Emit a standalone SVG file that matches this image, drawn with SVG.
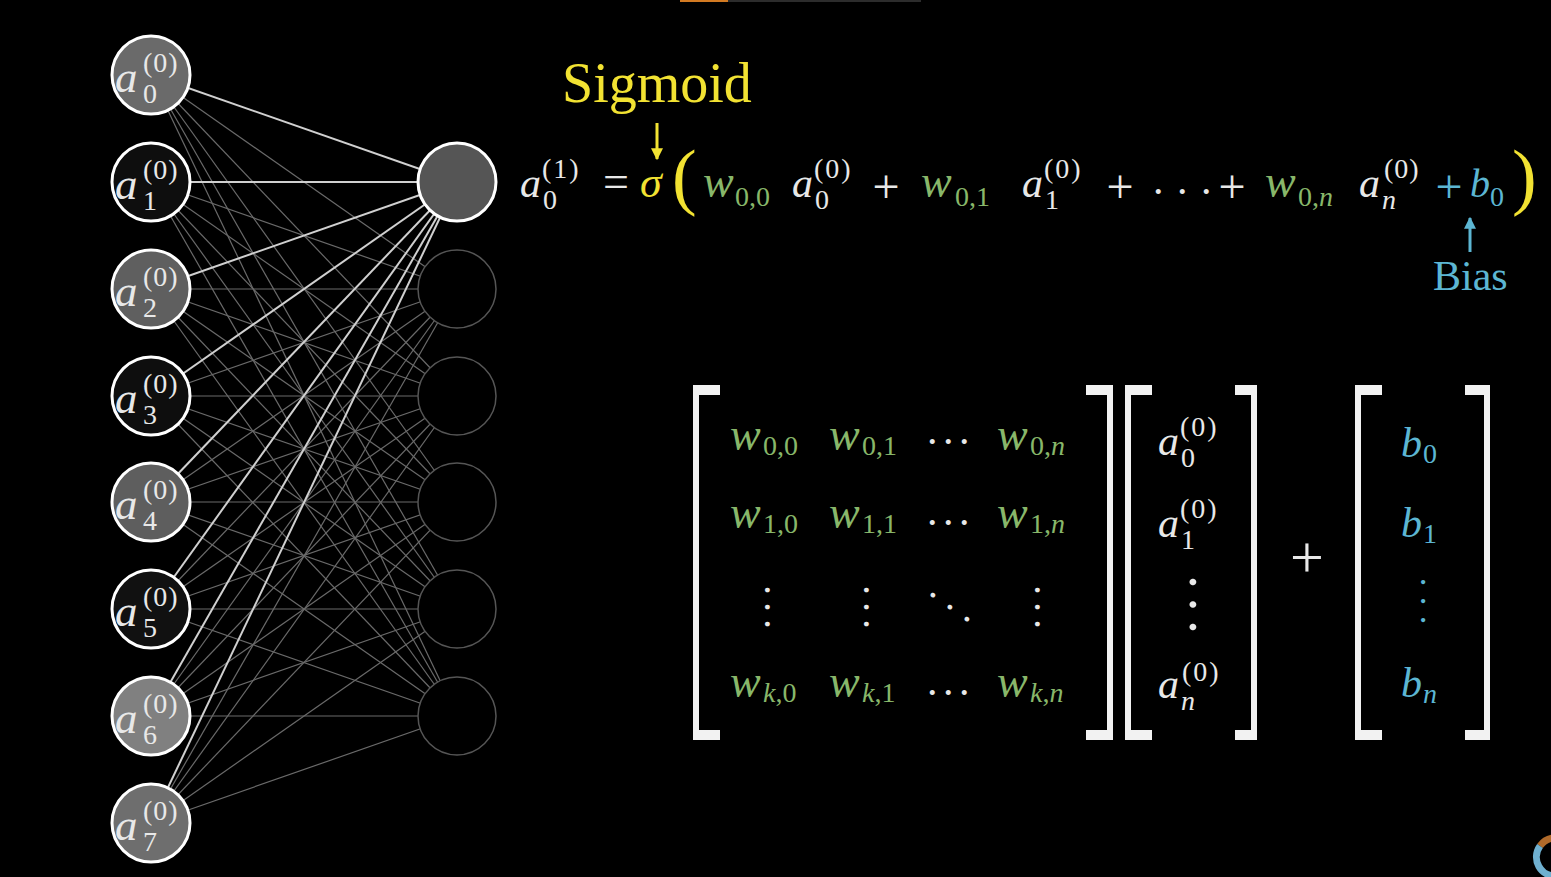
<svg xmlns="http://www.w3.org/2000/svg" width="1551" height="877" viewBox="0 0 1551 877">
<style>
.it{font-family:"Liberation Serif",serif;font-style:italic}
.rm{font-family:"Liberation Serif",serif}
.wt{fill:#e8e8e8}
.gr{fill:#88b76a}
.bl{fill:#5cb6d3}
.yl{fill:#f2e232}
.big{font-size:42px}
.ww{font-size:46px}
.sm{font-size:28px}
.lbA{font-size:45px}
.dim{stroke:#6a6a6a;stroke-width:1.2}
.brt{stroke:#d0d0d0;stroke-width:2}
.in{stroke:#ffffff;stroke-width:3}
.out{fill:#000;stroke:#555;stroke-width:1.5}
.br{fill:#f2f2f2}
</style>
<defs>
<marker id="ahY" viewBox="0 0 10 10" refX="9" refY="5" markerWidth="4" markerHeight="4" orient="auto"><path d="M0,0 L10,5 L0,10 z" fill="#f2e232"/></marker>
<marker id="ahB" viewBox="0 0 10 10" refX="9" refY="5" markerWidth="4" markerHeight="4" orient="auto"><path d="M0,0 L10,5 L0,10 z" fill="#5cb6d3"/></marker>
</defs>
<rect width="1551" height="877" fill="#000"/>
<rect x="680" y="0" width="48" height="2" fill="#d27a22"/>
<rect x="728" y="0" width="193" height="2" fill="#2c2c2c"/>
<path d="M1540,846 A19,19 0 0 1 1557,838" fill="none" stroke="#b06a2a" stroke-width="7"/>
<path d="M1540,846 A19,19 0 0 0 1557,876" fill="none" stroke="#6fb0d0" stroke-width="7"/>

<g id="connectors">
<g class="dim">
<line x1="151" y1="75" x2="457" y2="289"/><line x1="151" y1="75" x2="457" y2="396"/><line x1="151" y1="75" x2="457" y2="502"/><line x1="151" y1="75" x2="457" y2="609"/><line x1="151" y1="75" x2="457" y2="716"/>
<line x1="151" y1="182" x2="457" y2="289"/><line x1="151" y1="182" x2="457" y2="396"/><line x1="151" y1="182" x2="457" y2="502"/><line x1="151" y1="182" x2="457" y2="609"/><line x1="151" y1="182" x2="457" y2="716"/>
<line x1="151" y1="289" x2="457" y2="289"/><line x1="151" y1="289" x2="457" y2="396"/><line x1="151" y1="289" x2="457" y2="502"/><line x1="151" y1="289" x2="457" y2="609"/><line x1="151" y1="289" x2="457" y2="716"/>
<line x1="151" y1="396" x2="457" y2="289"/><line x1="151" y1="396" x2="457" y2="396"/><line x1="151" y1="396" x2="457" y2="502"/><line x1="151" y1="396" x2="457" y2="609"/><line x1="151" y1="396" x2="457" y2="716"/>
<line x1="151" y1="502" x2="457" y2="289"/><line x1="151" y1="502" x2="457" y2="396"/><line x1="151" y1="502" x2="457" y2="502"/><line x1="151" y1="502" x2="457" y2="609"/><line x1="151" y1="502" x2="457" y2="716"/>
<line x1="151" y1="609" x2="457" y2="289"/><line x1="151" y1="609" x2="457" y2="396"/><line x1="151" y1="609" x2="457" y2="502"/><line x1="151" y1="609" x2="457" y2="609"/><line x1="151" y1="609" x2="457" y2="716"/>
<line x1="151" y1="716" x2="457" y2="289"/><line x1="151" y1="716" x2="457" y2="396"/><line x1="151" y1="716" x2="457" y2="502"/><line x1="151" y1="716" x2="457" y2="609"/><line x1="151" y1="716" x2="457" y2="716"/>
<line x1="151" y1="823" x2="457" y2="289"/><line x1="151" y1="823" x2="457" y2="396"/><line x1="151" y1="823" x2="457" y2="502"/><line x1="151" y1="823" x2="457" y2="609"/><line x1="151" y1="823" x2="457" y2="716"/>
</g>
<g class="brt">
<line x1="151" y1="75" x2="457" y2="182"/><line x1="151" y1="182" x2="457" y2="182"/><line x1="151" y1="289" x2="457" y2="182"/><line x1="151" y1="396" x2="457" y2="182"/>
<line x1="151" y1="502" x2="457" y2="182"/><line x1="151" y1="609" x2="457" y2="182"/><line x1="151" y1="716" x2="457" y2="182"/><line x1="151" y1="823" x2="457" y2="182"/>
</g>
</g>

<g id="in0"><circle cx="151" cy="75" r="39" fill="#6a6a6a" class="in"/><text class="it wt lbA" x="115" y="92">a</text><text class="rm wt sm" x="143" y="103">0</text><text class="rm wt sm" x="143" y="72" letter-spacing="1">(0)</text></g>
<g id="in1"><circle cx="151" cy="182" r="39" fill="#0e0e0e" class="in"/><text class="it wt lbA" x="115" y="199">a</text><text class="rm wt sm" x="143" y="210">1</text><text class="rm wt sm" x="143" y="179" letter-spacing="1">(0)</text></g>
<g id="in2"><circle cx="151" cy="289" r="39" fill="#5f5f5f" class="in"/><text class="it wt lbA" x="115" y="306">a</text><text class="rm wt sm" x="143" y="317">2</text><text class="rm wt sm" x="143" y="286" letter-spacing="1">(0)</text></g>
<g id="in3"><circle cx="151" cy="396" r="39" fill="#0e0e0e" class="in"/><text class="it wt lbA" x="115" y="413">a</text><text class="rm wt sm" x="143" y="424">3</text><text class="rm wt sm" x="143" y="393" letter-spacing="1">(0)</text></g>
<g id="in4"><circle cx="151" cy="502" r="39" fill="#5e5e5e" class="in"/><text class="it wt lbA" x="115" y="519">a</text><text class="rm wt sm" x="143" y="530">4</text><text class="rm wt sm" x="143" y="499" letter-spacing="1">(0)</text></g>
<g id="in5"><circle cx="151" cy="609" r="39" fill="#111111" class="in"/><text class="it wt lbA" x="115" y="626">a</text><text class="rm wt sm" x="143" y="637">5</text><text class="rm wt sm" x="143" y="606" letter-spacing="1">(0)</text></g>
<g id="in6"><circle cx="151" cy="716" r="39" fill="#808080" class="in"/><text class="it wt lbA" x="115" y="733">a</text><text class="rm wt sm" x="143" y="744">6</text><text class="rm wt sm" x="143" y="713" letter-spacing="1">(0)</text></g>
<g id="in7"><circle cx="151" cy="823" r="39" fill="#6e6e6e" class="in"/><text class="it wt lbA" x="115" y="840">a</text><text class="rm wt sm" x="143" y="851">7</text><text class="rm wt sm" x="143" y="820" letter-spacing="1">(0)</text></g>

<g id="out0"><circle cx="457" cy="182" r="39" fill="#555555" class="in"/></g>
<g id="out1"><circle cx="457" cy="289" r="39" class="out"/></g>
<g id="out2"><circle cx="457" cy="396" r="39" class="out"/></g>
<g id="out3"><circle cx="457" cy="502" r="39" class="out"/></g>
<g id="out4"><circle cx="457" cy="609" r="39" class="out"/></g>
<g id="out5"><circle cx="457" cy="716" r="39" class="out"/></g>

<g id="equation">
<text class="rm yl" x="562" y="102" font-size="56">Sigmoid</text>
<line x1="657" y1="123" x2="657" y2="159" stroke="#f2e232" stroke-width="3" marker-end="url(#ahY)"/>
<text class="it wt big" x="520" y="197">a</text><text class="rm wt sm" x="543" y="209">0</text><text class="rm wt sm" x="542" y="178" letter-spacing="2">(1)</text>
<text class="rm wt" x="616" y="197" font-size="46" text-anchor="middle">=</text>
<text class="it yl" x="640" y="197" font-size="44">σ</text>
<text class="rm yl" x="672" y="201" font-size="74">(</text>
<text class="it gr ww" x="703" y="197">w</text><text class="rm gr sm" x="735" y="206">0,0</text>
<text class="it wt big" x="792" y="197">a</text><text class="rm wt sm" x="815" y="209">0</text><text class="rm wt sm" x="814" y="178" letter-spacing="2">(0)</text>
<text class="rm wt" x="886" y="203" font-size="48" text-anchor="middle">+</text>
<text class="it gr ww" x="921" y="197">w</text><text class="rm gr sm" x="955" y="206">0,1</text>
<text class="it wt big" x="1022" y="197">a</text><text class="rm wt sm" x="1045" y="209">1</text><text class="rm wt sm" x="1044" y="178" letter-spacing="2">(0)</text>
<text class="rm wt" x="1120" y="203" font-size="48" text-anchor="middle">+</text>
<text class="rm wt big" x="1153 1177 1201" y="194">...</text>
<text class="rm wt" x="1232" y="203" font-size="48" text-anchor="middle">+</text>
<text class="it gr ww" x="1265" y="197">w</text><text class="rm gr sm" x="1298" y="206">0,<tspan class="it">n</tspan></text>
<text class="it wt big" x="1359" y="197">a</text><text class="it wt sm" x="1382" y="209">n</text><text class="rm wt sm" x="1384" y="178" letter-spacing="1">(0)</text>
<text class="rm bl" x="1449" y="203" font-size="48" text-anchor="middle">+</text>
<text class="it bl" x="1470" y="197" font-size="40">b</text><text class="rm bl sm" x="1490" y="206">0</text>
<text class="rm yl" x="1512" y="201" font-size="74">)</text>
<line x1="1470" y1="252" x2="1470" y2="218" stroke="#5cb6d3" stroke-width="3" marker-end="url(#ahB)"/>
<text class="rm bl" x="1433" y="290" font-size="42">Bias</text>
</g>

<g id="matrix">
<path class="br" d="M693,385 H720 V395 H699 V730 H720 V740 H693 Z"/>
<path class="br" d="M1113,385 H1086 V395 H1107 V730 H1086 V740 H1113 Z"/>
<text class="it gr ww" x="730" y="450">w</text><text class="rm gr sm" x="763" y="455">0,0</text>
<text class="it gr ww" x="829" y="450">w</text><text class="rm gr sm" x="862" y="455">0,1</text>
<text class="rm wt big" x="927 943 959" y="444">...</text>
<text class="it gr ww" x="997" y="450">w</text><text class="rm gr sm" x="1030" y="455">0,<tspan class="it">n</tspan></text>
<text class="it gr ww" x="730" y="528">w</text><text class="rm gr sm" x="763" y="533">1,0</text>
<text class="it gr ww" x="829" y="528">w</text><text class="rm gr sm" x="862" y="533">1,1</text>
<text class="rm wt big" x="927 943 959" y="525">...</text>
<text class="it gr ww" x="997" y="528">w</text><text class="rm gr sm" x="1030" y="533">1,<tspan class="it">n</tspan></text>
<text class="rm wt" font-size="40" transform="translate(767,590) rotate(90)" x="-5 12 29" y="2">...</text>
<text class="rm wt" font-size="40" transform="translate(866,590) rotate(90)" x="-5 12 29" y="2">...</text>
<text class="rm wt" font-size="40" transform="translate(933,595) rotate(35.2)" x="-5 15.8 36.6" y="2">...</text>
<text class="rm wt" font-size="40" transform="translate(1037,590) rotate(90)" x="-5 12 29" y="2">...</text>
<text class="it gr ww" x="730" y="697">w</text><text class="rm gr sm" x="763" y="702"><tspan class="it">k</tspan>,0</text>
<text class="it gr ww" x="829" y="697">w</text><text class="rm gr sm" x="862" y="702"><tspan class="it">k</tspan>,1</text>
<text class="rm wt big" x="927 943 959" y="695">...</text>
<text class="it gr ww" x="997" y="697">w</text><text class="rm gr sm" x="1030" y="702"><tspan class="it">k</tspan>,<tspan class="it">n</tspan></text>
</g>

<g id="vector-a">
<path class="br" d="M1125,385 H1152 V395 H1131 V730 H1152 V740 H1125 Z"/>
<path class="br" d="M1257,385 H1235 V395 H1251 V730 H1235 V740 H1257 Z"/>
<text class="it wt big" x="1158" y="455">a</text><text class="rm wt sm" x="1181" y="467">0</text><text class="rm wt sm" x="1180" y="436" letter-spacing="2">(0)</text>
<text class="it wt big" x="1158" y="537">a</text><text class="rm wt sm" x="1181" y="549">1</text><text class="rm wt sm" x="1180" y="518" letter-spacing="2">(0)</text>
<text class="rm wt" font-size="56" transform="translate(1193,582) rotate(90)" x="-7 15.5 38" y="3">...</text>
<text class="it wt big" x="1158" y="698">a</text><text class="it wt sm" x="1181" y="710">n</text><text class="rm wt sm" x="1182" y="681" letter-spacing="2">(0)</text>
</g>

<text class="rm wt" x="1307" y="577" font-size="60" text-anchor="middle">+</text>

<g id="vector-b">
<path class="br" d="M1355,385 H1382 V395 H1361 V730 H1382 V740 H1355 Z"/>
<path class="br" d="M1490,385 H1465 V395 H1484 V730 H1465 V740 H1490 Z"/>
<text class="it bl big" x="1401" y="457">b</text><text class="rm bl sm" x="1423" y="463">0</text>
<text class="it bl big" x="1401" y="537">b</text><text class="rm bl sm" x="1423" y="543">1</text>
<text class="rm bl" font-size="36" transform="translate(1423,582) rotate(90)" x="-4.5 14.5 33.5" y="1.8">...</text>
<text class="it bl big" x="1401" y="697">b</text><text class="it bl sm" x="1423" y="703">n</text>
</g>
</svg>
